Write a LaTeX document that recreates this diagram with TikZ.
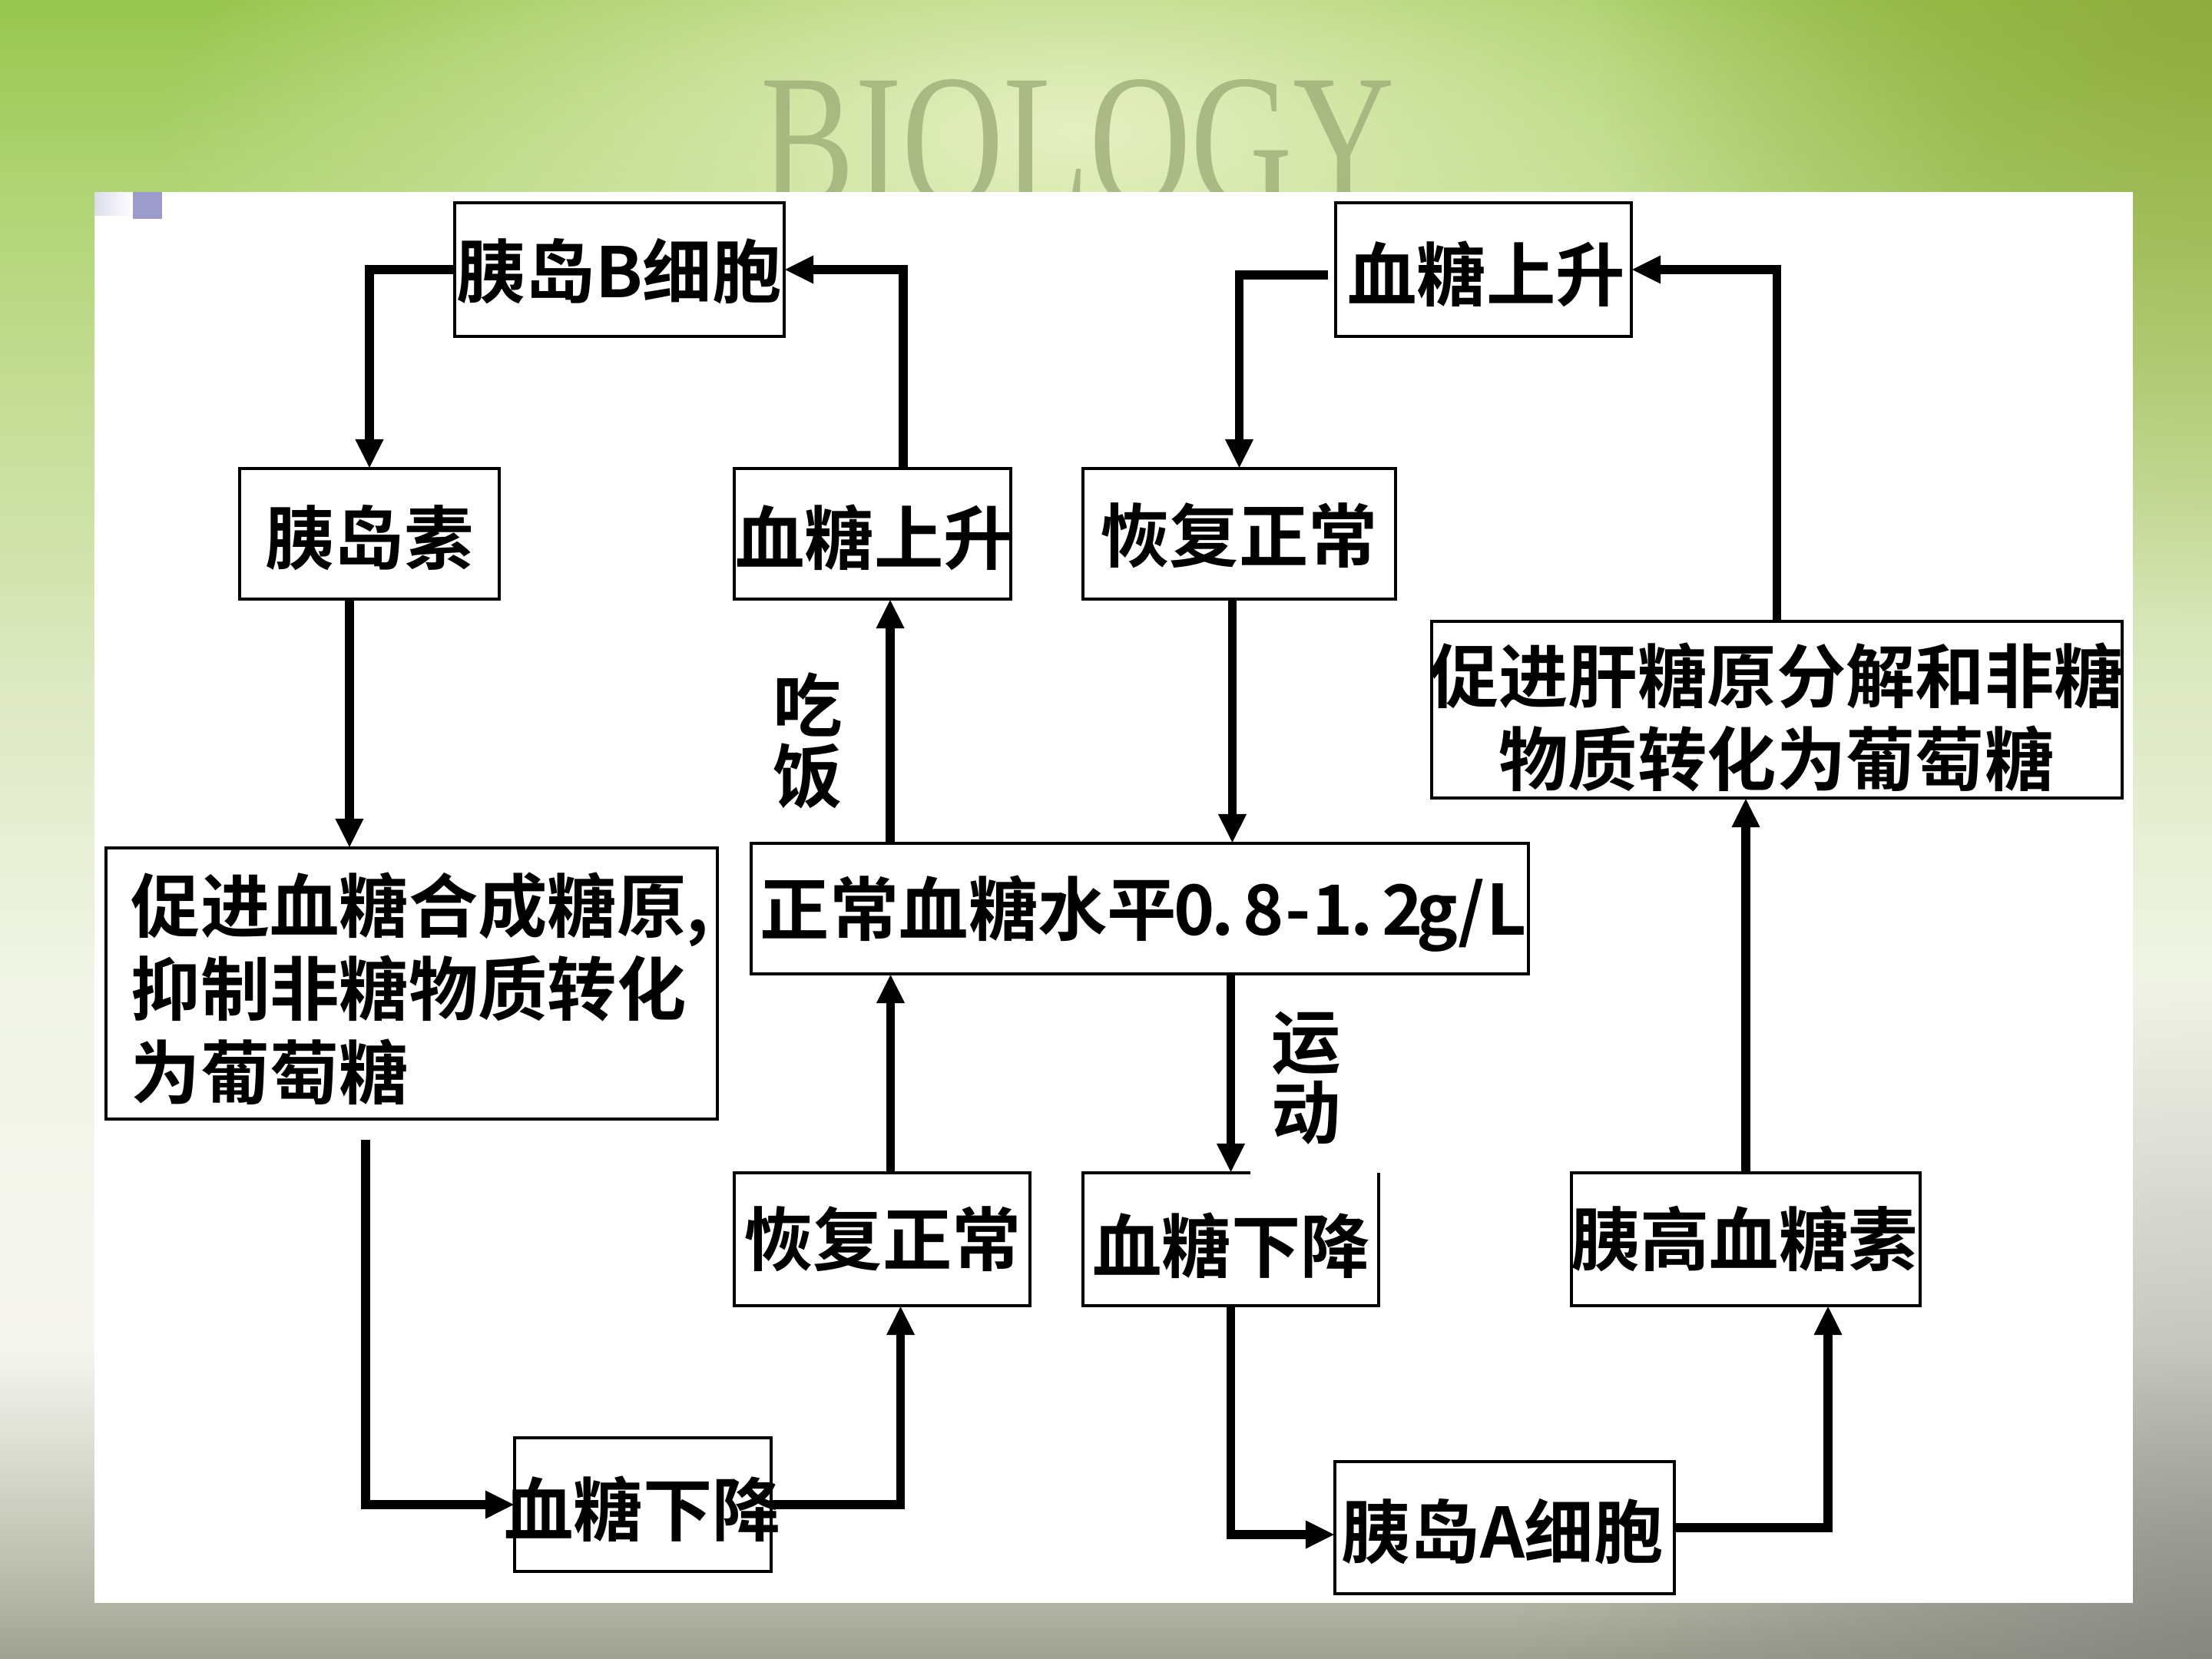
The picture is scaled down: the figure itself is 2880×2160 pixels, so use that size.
\documentclass[tikz,border=0pt]{standalone}
\usepackage{fontspec}
\usetikzlibrary{arrows.meta,fadings}
\newfontfamily\cjkb{Noto Sans CJK SC Bold}
\newfontfamily\biofont{Liberation Serif}
\newcommand\halfw[1]{\makebox[0.5em]{#1}}
\newcommand\halfd{\makebox[0.5em][l]{.}}
\definecolor{bgA}{HTML}{9EA090}
\definecolor{bgB}{HTML}{B3B5A4}
\definecolor{bgC}{HTML}{D9DBCF}
\definecolor{bgD}{HTML}{F6F6F0}
\definecolor{bgE}{HTML}{F2F5E8}
\definecolor{bgF}{HTML}{DDE9C2}
\definecolor{bgG}{HTML}{C3DC92}
\definecolor{bgH}{HTML}{B0D474}
\definecolor{bgI}{HTML}{98C64E}
\definecolor{glowc}{HTML}{E6F0C2}
\definecolor{olivec}{HTML}{8EA63A}
\definecolor{darkc}{HTML}{7C7C78}
\definecolor{purplec}{HTML}{9B9BCC}
\definecolor{lavc}{HTML}{DCDCEC}
\definecolor{biocol}{HTML}{9DAE78}
\pgfdeclareverticalshading{bgv}{100bp}{color(0bp)=(bgA); color(25bp)=(bgA); color(26.69bp)=(bgB); color(31.02bp)=(bgC); color(34.49bp)=(bgD); color(44.91bp)=(bgE); color(54.17bp)=(bgF); color(63.43bp)=(bgG); color(69.21bp)=(bgH); color(75bp)=(bgI); color(100bp)=(bgI)}
\tikzfading[name=radfade, inner color=transparent!0, outer color=transparent!100]
\begin{document}
\begin{tikzpicture}[x=0.01cm,y=-0.01cm,
  box/.style={draw=black, line width=0.04cm, inner sep=0, outer sep=0},
  txt/.style={font=\cjkb\fontsize{25.7}{30.9}\selectfont, inner sep=0, text=black},
  lbl/.style={txt, align=center, font=\cjkb\fontsize{25.7}{26.2}\selectfont},
  arr/.style={line width=0.115cm, -{Triangle[length=0.38cm,width=0.34cm]}}]
\useasboundingbox (0,0) rectangle (2880,2160);
% background
\shade[shading=bgv] (0,0) rectangle (2880,2160);
\fill[glowc, path fading=radfade] (1400,170) ellipse [x radius=12cm, y radius=4.5cm];
\fill[olivec, path fading=radfade, opacity=0.8] (2880,0) circle [radius=8cm];
\fill[darkc, path fading=radfade, opacity=0.7] (2880,2160) circle [radius=9cm];
\node[anchor=base west, inner sep=0, text=biocol, opacity=0.8, font=\biofont\fontsize{70}{70}\selectfont] (bio) at (990,266) {\scalebox{0.745}[1]{BIOLOGY}};
% panel
\fill[white] (123,250) rectangle (2777,2087);
\shade[left color=lavc, right color=white] (123,250) rectangle (173,280);
\fill[purplec] (173,250) rectangle (211,285);
% boxes
\node[box, minimum width=4.29cm, minimum height=1.74cm] (bB) at (806.5,351) {};
\node[box, minimum width=3.38cm, minimum height=1.70cm] (ins) at (481,695) {};
\node[box, minimum width=3.60cm, minimum height=1.70cm] (rise1) at (1136,695) {};
\node[box, minimum width=3.85cm, minimum height=1.74cm] (rise2) at (1931.5,351) {};
\node[box, minimum width=4.07cm, minimum height=1.70cm] (rec2) at (1613.5,695) {};
\node[box, minimum width=8.99cm, minimum height=2.30cm] (prom2) at (2313.5,924) {};
\node[box, minimum width=7.96cm, minimum height=3.53cm] (prom1) at (536,1280.5) {};
\node[box, minimum width=10.12cm, minimum height=1.70cm] (norm) at (1484,1183) {};
\node[box, minimum width=3.85cm, minimum height=1.73cm] (rec1) at (1148.5,1613.5) {};
\node[box, draw=none, minimum width=3.85cm, minimum height=1.73cm] (fall2) at (1602.5,1613.5) {};
\draw[line width=0.04cm] ([xshift=2.18cm]fall2.north west) -- (fall2.north west) -- (fall2.south west) -- (fall2.south east) -- (fall2.north east);
\node[box, minimum width=3.34cm, minimum height=1.74cm] (fall1) at (837,1959) {};
\node[box, minimum width=4.42cm, minimum height=1.72cm] (cellA) at (1959,1989) {};
\node[box, minimum width=4.54cm, minimum height=1.73cm] (glu) at (2273,1613.5) {};
% texts
\node[txt] (tbB) at (806,353) {胰岛B细胞};
\node[txt] (tins) at (481,700) {胰岛素};
\node[txt] (trise1) at (1138,700) {血糖上升};
\node[txt] (trise2) at (1935,357) {血糖上升};
\node[txt] (trec2) at (1613,697) {恢复正常};
\node[txt, align=center] (tprom2) at (2313,934) {促进肝糖原分解和非糖\\物质转化为葡萄糖};
\node[txt, align=left, anchor=west] (tprom1) at (170,1287) {促进血糖合成糖原,\\抑制非糖物质转化\\为葡萄糖};
\node[txt] (tnorm) at (1487,1190) {正常血糖水平\halfw{0}\halfd\halfw{8}\halfw{-}\halfw{1}\halfd\halfw{2}\halfw{g}\halfw{/}\halfw{L}};
\node[txt] (trec1) at (1149,1613) {恢复正常};
\node[txt] (tfall2) at (1603,1622) {血糖下降};
\node[txt] (tfall1) at (837,1965) {血糖下降};
\node[txt] (tA) at (1956,1994) {胰岛A细胞};
\node[txt] (tglu) at (2271,1613) {胰高血糖素};
\node[lbl] (eat) at (1052,964) {吃\\饭};
\node[lbl] (run) at (1701,1404) {运\\动};
% connectors
\draw[arr] (bB.west) -| (ins.north);
\draw[arr] ([xshift=0.4cm]rise1.north) |- (bB.east);
\draw[arr] ([xshift=-0.26cm]ins.south) -- ([xshift=-0.26cm]ins.south |- prom1.north);
\draw[arr] ([xshift=-0.6cm,yshift=-0.27cm]prom1.south) |- (fall1.west);
\draw[arr] (fall1.east) -| ([xshift=0.24cm]rec1.south);
\draw[arr] ([xshift=0.11cm]rec1.north) -- ([xshift=0.11cm]rec1.north |- norm.south);
\draw[arr] ([xshift=0.23cm]rise1.south |- norm.north) -- ([xshift=0.23cm]rise1.south);
\draw[arr] ([xshift=-0.1cm,yshift=-0.07cm]rise2.west) -| (rec2.north);
\draw[arr] (prom2.north) |- (rise2.east);
\draw[arr] ([xshift=-0.09cm]rec2.south) -- ([xshift=-0.09cm]rec2.south |- norm.north);
\draw[arr] (fall2.north |- norm.south) -- (fall2.north);
\draw[arr] (fall2.south) |- ([yshift=-0.09cm]cellA.west);
\draw[arr] (cellA.east) -| ([xshift=1.07cm]glu.south);
\draw[arr] (glu.north) -- (glu.north |- prom2.south);
\end{tikzpicture}
\end{document}
